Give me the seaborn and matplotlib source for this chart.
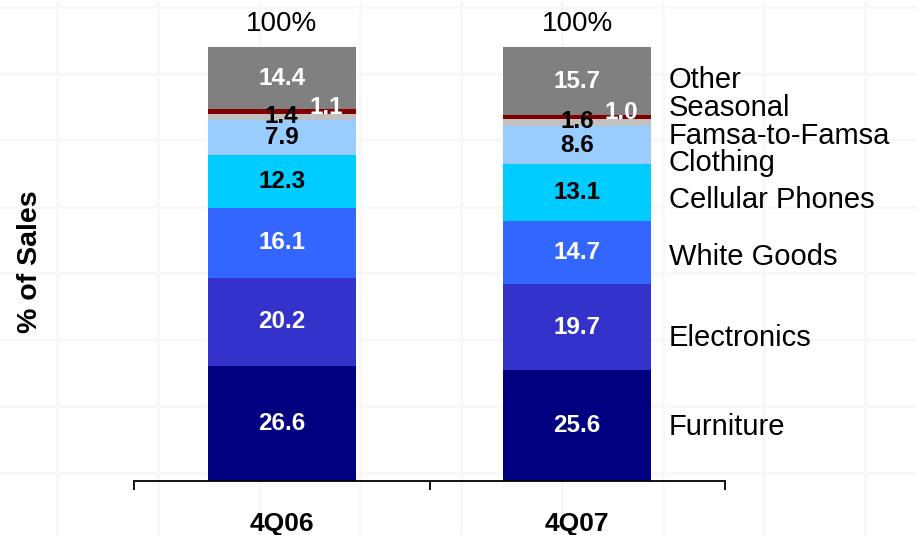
import numpy as np
import pandas as pd
import matplotlib
matplotlib.use("Agg")
import matplotlib.pyplot as plt
import seaborn as sns

# Sales mix by product category (% of sales)
quarters = ["4Q06", "4Q07"]
segments = ["Furniture", "Electronics", "White Goods", "Cellular Phones",
            "Clothing", "Famsa-to-Famsa", "Seasonal", "Other"]
furniture = [26.6, 25.6]
electronics = [20.2, 19.7]
white_goods = [16.1, 14.7]
cellular_phones = [12.3, 13.1]
clothing = [7.9, 8.6]
famsa_to_famsa = [1.4, 1.6]
seasonal = [1.1, 1.0]
other = [14.4, 15.7]
totals = ["100%", "100%"]

series = [furniture, electronics, white_goods, cellular_phones,
          clothing, famsa_to_famsa, seasonal, other]

# styling
colors = ["#000080", "#3333CC", "#3366FF", "#00CCFF",
          "#99CCFF", "#C0C0C0", "#800000", "#808080"]
value_colors = ["white", "white", "white", "black",
                "black", "black", "white", "white"]
legend_y = [12.4, 32.9, 51.6, 64.7, 73.3, 79.6, 86.0, 92.3]

sns.set_theme(style="white")
plt.rcParams["font.family"] = ["Liberation Sans", "DejaVu Sans"]
plt.rcParams["text.color"] = "black"
plt.rcParams["xtick.color"] = "black"
plt.rcParams["xtick.labelcolor"] = "black"

W, H = 917, 535
fig = plt.figure(figsize=(W / 100, H / 100), dpi=100)
fig.patch.set_facecolor("white")

# faint tiled background
bg = fig.add_axes([0, 0, 1, 1], zorder=-10)
bg.set_xlim(0, W)
bg.set_ylim(H, 0)
bg.axis("off")
for gx in np.arange(57, W, 101):
    bg.axvline(gx, color="#F8F8F8", lw=2)
for gy in np.arange(7, H, 66.5):
    bg.axhline(gy, color="#F8F8F8", lw=2)

ax = fig.add_axes([134 / W, 54 / H, 591 / W, 434 / H])
ax.patch.set_alpha(0)

bottom = np.zeros(len(quarters))
for name, vals, col, tcol in zip(segments, series, colors, value_colors):
    vals = np.asarray(vals, dtype=float)
    df = pd.DataFrame({"quarter": quarters, "share": vals})
    sns.barplot(data=df, x="quarter", y="share", color=col, saturation=1,
                width=0.5, bottom=bottom.copy(), linewidth=0, ax=ax)
    for i, v in enumerate(vals):
        yc = bottom[i] + v / 2
        xc = i
        if name == "Seasonal":
            xc = i + 0.15
            yc += 1.0
        elif name == "Famsa-to-Famsa":
            yc += 0.3
        ax.text(xc, yc, f"{v:.1f}", ha="center", va="center",
                color=tcol, fontsize=17.5, fontweight="bold", zorder=5)
    bottom += vals

# totals above each column
for i, t in enumerate(totals):
    ax.text(i, bottom[i] + 5.2, t, ha="center", va="center", fontsize=20,
            color="black", clip_on=False)

# category names beside the right column
for name, ly in zip(segments, legend_y):
    ax.text(1.31, ly, name, ha="left", va="center", fontsize=21,
            color="black", clip_on=False)

ax.set_xlim(-0.5, 1.5)
ax.set_ylim(0, 100)
ax.set_xlabel("")
ax.set_ylabel("")
ax.set_yticks([])
for side in ["left", "right", "top"]:
    ax.spines[side].set_visible(False)
ax.spines["bottom"].set_color("black")
ax.spines["bottom"].set_linewidth(1.3)

ax.set_xticks([-0.5, 0.5, 1.5])
ax.set_xticklabels([])
ax.tick_params(axis="x", which="major", direction="out", length=6.5,
               width=1.3, color="black", bottom=True)
ax.set_xticks([0, 1], minor=True)
ax.set_xticklabels(quarters, minor=True, fontsize=19, fontweight="bold",
                   color="black")
ax.tick_params(axis="x", which="minor", length=0, pad=22, bottom=True)

fig.text(30 / W, 1 - 262 / H, "% of Sales", rotation=90, ha="center",
         va="center", fontsize=20.5, fontweight="bold", color="black")

fig.savefig("out.png", dpi=100)
